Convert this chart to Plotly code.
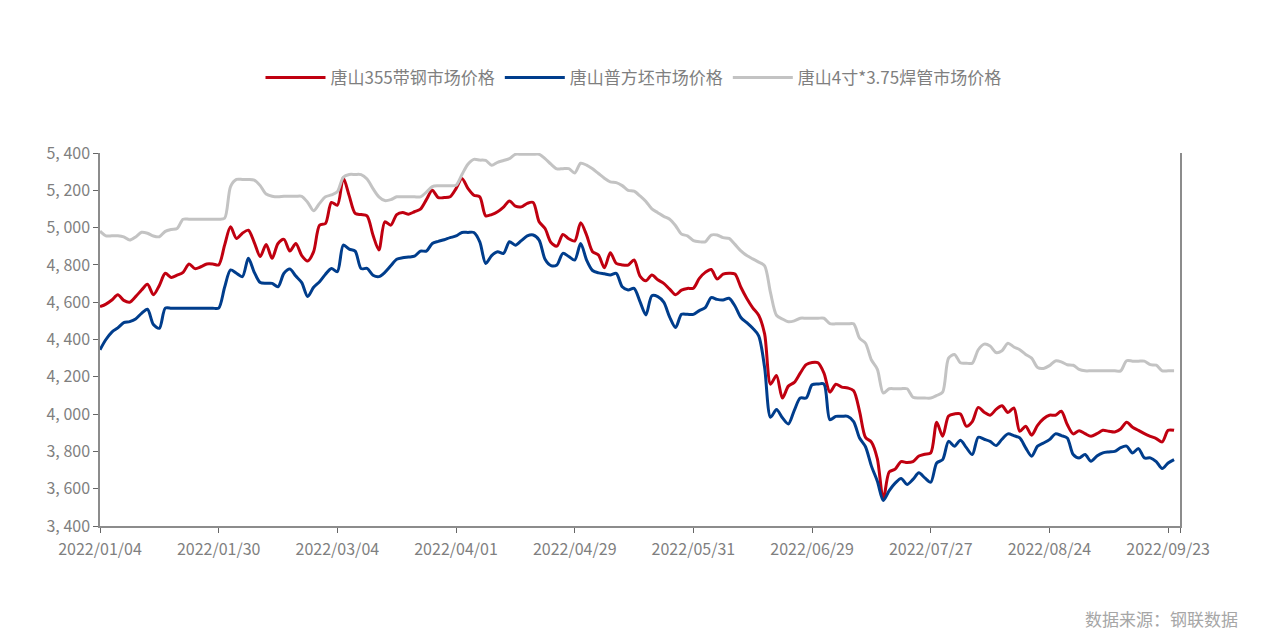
import plotly.graph_objects as go

tick_labels = ["2022/01/04", "2022/01/30", "2022/03/04", "2022/04/01", "2022/04/29",
               "2022/05/31", "2022/06/29", "2022/07/27", "2022/08/24", "2022/09/23"]

y_ticks = [3400, 3600, 3800, 4000, 4200, 4400, 4600, 4800, 5000, 5200, 5400]

strip_355 = [
    4576, 4590, 4612, 4640, 4610, 4600, 4630, 4665, 4696, 4640,
    4690, 4755, 4733, 4745, 4760, 4805, 4780, 4790, 4805, 4805,
    4800, 4906, 5004, 4942, 4970, 4986, 4920, 4845, 4910, 4835,
    4915, 4937, 4874, 4915, 4850, 4821, 4871, 5013, 5022, 5135,
    5120, 5266, 5170, 5076, 5070, 5063, 4960, 4880, 5031, 5013,
    5070, 5081, 5072, 5085, 5099, 5150, 5200, 5161, 5161, 5165,
    5209, 5263, 5210, 5174, 5165, 5063, 5070, 5085, 5110, 5143,
    5115, 5111, 5130, 5135, 5031, 4995, 4920, 4901, 4963, 4940,
    4928, 5026, 4960, 4871, 4853, 4785, 4865, 4808, 4800, 4799,
    4826, 4740, 4715, 4746, 4720, 4701, 4670, 4640, 4665, 4674,
    4675, 4728, 4760, 4775, 4724, 4750, 4755, 4751, 4680, 4620,
    4570, 4530, 4430, 4160, 4207, 4086, 4150, 4170, 4220, 4265,
    4277, 4275, 4220, 4118, 4160, 4145, 4140, 4125, 4015, 3875,
    3850, 3760, 3542, 3690, 3705, 3745, 3740, 3745, 3775, 3785,
    3792, 3956, 3881, 3990, 4001, 4001, 3935, 3960, 4036, 4010,
    3994, 4025, 4045, 4009, 4033, 3908, 3935, 3887, 3940, 3975,
    3994, 3994, 4015, 3944, 3894, 3911, 3895, 3881, 3895, 3913,
    3908, 3904, 3920, 3956, 3930, 3913, 3895, 3881, 3869, 3851,
    3913, 3913,
]

billet = [
    4345, 4400, 4440, 4462, 4490, 4496, 4510, 4540, 4562, 4480,
    4460, 4568, 4568, 4568, 4568, 4568, 4568, 4568, 4568, 4568,
    4568, 4680, 4773, 4755, 4737, 4835, 4760, 4705, 4701, 4701,
    4683, 4755, 4778, 4740, 4705, 4630, 4680, 4710, 4750, 4781,
    4764, 4906, 4885, 4874, 4780, 4781, 4745, 4737, 4760, 4795,
    4830, 4838, 4842, 4847, 4874, 4874, 4915, 4926, 4935, 4946,
    4955, 4974, 4974, 4974, 4924, 4808, 4850, 4871, 4862, 4924,
    4906, 4930, 4955, 4960, 4933, 4830, 4796, 4800, 4862, 4845,
    4826, 4915, 4826, 4770, 4757, 4752, 4746, 4755, 4683, 4666,
    4674, 4603, 4532, 4635, 4630, 4600, 4520, 4464, 4535, 4535,
    4535, 4555, 4571, 4625, 4615, 4612, 4621, 4580, 4518, 4490,
    4460, 4420, 4250, 3983, 4024, 3980, 3947, 4020, 4086, 4086,
    4157, 4161, 4161, 3970, 3988, 3988, 3988, 3960, 3872, 3825,
    3721, 3640, 3537, 3590, 3630, 3655, 3623, 3650, 3685, 3658,
    3635, 3738, 3756, 3854, 3828, 3860, 3820, 3783, 3876, 3865,
    3854, 3831, 3865, 3894, 3885, 3872, 3819, 3774, 3828, 3845,
    3863, 3894, 3885, 3872, 3783, 3765, 3783, 3747, 3775, 3792,
    3797, 3800, 3820, 3828, 3792, 3815, 3765, 3765, 3745, 3708,
    3738, 3756,
]

welded_pipe = [
    4981, 4956, 4956, 4956, 4950, 4933, 4950, 4975, 4970, 4955,
    4951, 4980, 4990, 4995, 5045, 5045, 5045, 5045, 5045, 5045,
    5045, 5050, 5220, 5258, 5258, 5258, 5255, 5225, 5180, 5168,
    5165, 5168, 5168, 5168, 5168, 5135, 5090, 5130, 5165, 5175,
    5192, 5270, 5285, 5285, 5284, 5260, 5209, 5165, 5145, 5150,
    5165, 5165, 5165, 5165, 5165, 5190, 5220, 5224, 5224, 5224,
    5227, 5285, 5340, 5366, 5362, 5360, 5334, 5350, 5360, 5370,
    5393, 5393, 5393, 5393, 5393, 5370, 5340, 5315, 5316, 5316,
    5293, 5345, 5335, 5315, 5290, 5265, 5245, 5241, 5225, 5200,
    5195, 5170, 5140, 5100, 5080, 5060, 5045, 5010, 4965, 4956,
    4930, 4924, 4924, 4960, 4960, 4946, 4942, 4910, 4875, 4850,
    4832, 4815, 4795, 4650, 4530, 4510, 4495, 4500, 4514, 4514,
    4514, 4514, 4514, 4485, 4484, 4484, 4484, 4484, 4407, 4380,
    4290, 4240, 4113, 4136, 4136, 4136, 4136, 4090, 4086, 4086,
    4086, 4100, 4118, 4300, 4320, 4275, 4273, 4273, 4345, 4375,
    4365, 4330, 4340, 4380, 4360, 4345, 4320, 4300, 4250, 4245,
    4260, 4285, 4280, 4265, 4262, 4240, 4232, 4232, 4232, 4232,
    4232, 4232, 4232, 4286, 4284, 4284, 4284, 4265, 4262, 4232,
    4232, 4232,
]

names = ["唐山355带钢市场价格", "唐山普方坯市场价格", "唐山4寸*3.75焊管市场价格"]
colors = ["#C00010", "#003D8C", "#C3C3C3"]
series = [strip_355, billet, welded_pipe]

FONT = "Noto Sans CJK SC, Noto Sans, sans-serif"
W, H = 1267, 642
OFF = 8  # page body margin

fig = go.Figure()
for name, color, vals in zip(names, colors, series):
    fig.add_trace(go.Scatter(
        x=list(range(len(vals))), y=vals, name=name, mode="lines",
        line=dict(color=color, width=3, shape="spline", smoothing=0.8),
    ))

n = len(strip_355)
tickvals = [i * 20 for i in range(len(tick_labels))] + [n]
ticktext = tick_labels + [""]
y_text = [f"{v:,}".replace(",", ", ") for v in y_ticks]

fig.update_layout(
    width=W, height=H,
    margin=dict(l=100 - OFF, r=W - 1180 + OFF, t=153 - OFF, b=H - 526 + OFF),
    plot_bgcolor="white", paper_bgcolor="white",
    font=dict(family=FONT, color="#7f7f7f", size=16),
    showlegend=True,
    legend=dict(orientation="h", xref="container", yref="container",
                x=0.5 - OFF / W, xanchor="center", y=1 - (78 - OFF) / H, yanchor="middle",
                font=dict(size=17, color="#7f7f7f"), itemwidth=60,
                traceorder="normal"),
    xaxis=dict(range=[0, n], tickvals=tickvals, ticktext=ticktext,
               showgrid=False, zeroline=False, showline=True,
               linecolor="#8c8c8c", linewidth=1.5, ticks="outside",
               ticklen=5, tickcolor="#666666", ticklabelstandoff=3,
               tickfont=dict(size=16, color="#7f7f7f")),
    yaxis=dict(range=[3400, 5400], tickvals=y_ticks, ticktext=y_text,
               showgrid=False, zeroline=False, showline=True, mirror=True,
               linecolor="#8c8c8c", linewidth=1.5, ticks="outside",
               ticklen=5, tickcolor="#666666", tickfont=dict(size=16, color="#7f7f7f")),
    annotations=[dict(text="数据来源：钢联数据", xref="paper", yref="paper",
                      x=(1240 - 100) / 1080, y=(526 - 618) / 373,
                      xanchor="right", yanchor="middle", showarrow=False,
                      font=dict(size=17, color="#a6a6a6", family=FONT))],
)

fig.write_html("out.html")
